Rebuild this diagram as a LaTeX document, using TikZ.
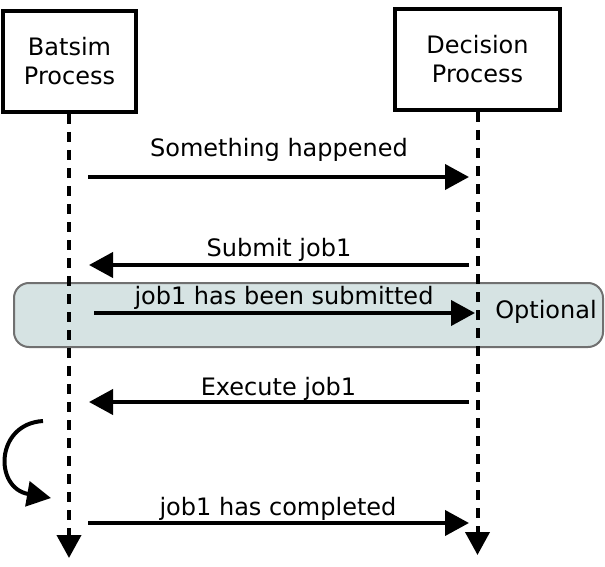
\documentclass[tikz,border=0pt]{standalone}
\usepackage{fontspec}
\setmainfont{DejaVu Sans}
\usetikzlibrary{arrows.meta}
\definecolor{optfill}{RGB}{214,227,227}
\definecolor{optdraw}{RGB}{112,112,112}
\begin{document}
\begin{tikzpicture}[x=1pt,y=-1pt,
  proc/.style={draw, line width=4.5pt, align=center, inner sep=0pt,
    font=\fontsize{24pt}{29pt}\selectfont},
  lbl/.style={inner sep=0pt, anchor=base, font=\fontsize{24pt}{29pt}\selectfont},
  tip/.style={-{Triangle[length=24pt,width=25pt]}},
  msg/.style={line width=4pt, tip},
  life/.style={line width=4pt, dash pattern=on 10pt off 8pt, -{Triangle[length=23pt,width=24pt]}},
  optbox/.style={draw=optdraw, fill=optfill, line width=2pt, rounded corners=15pt}
]
\useasboundingbox (0,0) rectangle (605,567);
% optional region
\draw[optbox] (14,283) rectangle (603,347);
\node[lbl, anchor=center] (opt) at (546,312) {Optional};
% processes
\node[proc, minimum width=133pt, minimum height=101pt] (bat) at (69.5,61.5) {Batsim\\Process};
\node[proc, minimum width=165pt, minimum height=101pt] (dec) at (477.5,59.5) {Decision\\Process};
% lifelines
\coordinate (bt) at (69,114);
\coordinate (be) at (69,558);
\coordinate (dt) at (477.5,112);
\coordinate (de) at (477.5,555);
\draw[life] (bt) -- (be);
\draw[life] (dt) -- (de);
% messages
\coordinate (m1a) at (88,177);  \coordinate (m1b) at (469,177);
\coordinate (m2a) at (469,265); \coordinate (m2b) at (89,265);
\coordinate (m3a) at (94,313);  \coordinate (m3b) at (475,313);
\coordinate (m4a) at (469,402); \coordinate (m4b) at (89,402);
\coordinate (m5a) at (88,523);  \coordinate (m5b) at (469,523);
\draw[msg] (m1a) -- (m1b);
\draw[msg] (m2a) -- (m2b);
\draw[msg] (m3a) -- (m3b);
\draw[msg] (m4a) -- (m4b);
\draw[msg] (m5a) -- (m5b);
\node[lbl] (l1) at (279,157) {Something happened};
\node[lbl] (l2) at (279,256) {Submit job1};
\node[lbl] (l3) at (284,304) {job1 has been submitted};
\node[lbl] (l4) at (278.5,395) {Execute job1};
\node[lbl] (l5) at (278,515) {job1 has completed};
% self loop
\coordinate (sa) at (43,421);
\coordinate (sb) at (51,498);
\draw[line width=4pt, tip] (sa) .. controls (-5,424) and (-6,488) .. (sb);
\end{tikzpicture}
\end{document}
